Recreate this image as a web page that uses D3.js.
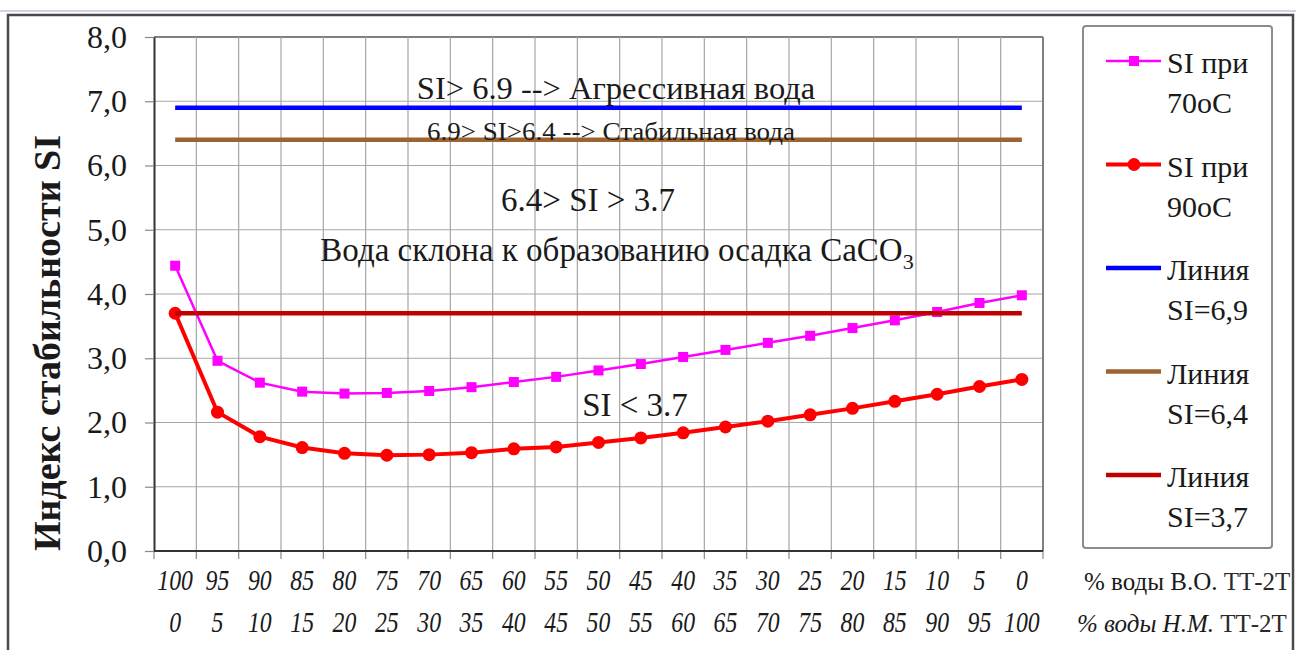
<!DOCTYPE html>
<html>
<head>
<meta charset="utf-8">
<script src="https://cdn.jsdelivr.net/npm/d3@7"></script>
<style>
  body { margin: 0; background: #fff; }
  text { font-family: "Liberation Serif", "Times New Roman", serif; fill: #1a1a1a; }
</style>
</head>
<body>
<script>

  // categories: % water V.O. (top row) and % water N.M. (bottom row)
  const topLabels = ["100","95","90","85","80","75","70","65","60","55","50","45","40","35","30","25","20","15","10","5","0"];
  const bottomLabels = ["0","5","10","15","20","25","30","35","40","45","50","55","60","65","70","75","80","85","90","95","100"];

  // SI values
  const si70 = [4.44, 2.96, 2.62, 2.48, 2.45, 2.46, 2.49, 2.55, 2.63, 2.71, 2.81, 2.91, 3.02, 3.13, 3.24, 3.35, 3.47, 3.59, 3.72, 3.86, 3.98];
  const si90 = [3.70, 2.16, 1.78, 1.61, 1.52, 1.49, 1.50, 1.53, 1.59, 1.62, 1.69, 1.76, 1.84, 1.93, 2.02, 2.12, 2.22, 2.33, 2.44, 2.56, 2.67];

  // constant lines
  const limits = [6.9, 6.4, 3.7];
  const yTicks = [0, 1, 2, 3, 4, 5, 6, 7, 8];

  const legendLabels = [["SI при", "70oC"], ["SI при", "90oC"], ["Линия", "SI=6,9"], ["Линия", "SI=6,4"], ["Линия", "SI=3,7"]];

  const colors = {si70: '#ff00ff', si90: '#ff0000', l69: '#0000ff', l64: '#9c6430', l37: '#c00000'};
  const limitColors = [colors.l69, colors.l64, colors.l37];

  const margin = { top: 37, right: 253, bottom: 99, left: 154 },
        width = 1296 - margin.left - margin.right,
        height = 650 - margin.top - margin.bottom;

  const svg = d3.select('body')
    .append('svg')
      .attr('width', 1296)
      .attr('height', 650);

  // outer frame
  svg.append('line')
    .attr('x1', 0).attr('x2', 1296).attr('y1', 11).attr('y2', 11)
    .attr('stroke', '#cdd4e2').attr('stroke-width', 2);
  svg.append('rect')
    .attr('x', 8).attr('y', 15).attr('width', 1285).attr('height', 660)
    .attr('fill', 'none').attr('stroke', '#4a4a4a').attr('stroke-width', 2.5);

  const g = svg.append('g')
    .attr('transform', `translate(${margin.left}, ${margin.top})`);

  const x = d3.scaleBand()
    .domain(d3.range(topLabels.length))
    .range([0, width]);
  const cx = i => x(i) + x.bandwidth() / 2;

  const y = d3.scaleLinear()
    .domain([0, 8])
    .range([height, 0]);

  // horizontal grid
  g.append('g')
    .selectAll('line')
    .data(yTicks.slice(1))
    .join('line')
      .attr('x1', 0).attr('x2', width)
      .attr('y1', d => y(d)).attr('y2', d => y(d))
      .attr('stroke', d => d === 8 ? '#808080' : '#a6a6a6')
      .attr('stroke-width', d => d === 8 ? 2 : 1.2);

  // vertical grid at category boundaries
  const bounds = d3.range(1, topLabels.length + 1).map(i => i < topLabels.length ? x(i) : width);
  g.append('g')
    .selectAll('line')
    .data(bounds)
    .join('line')
      .attr('x1', d => d).attr('x2', d => d)
      .attr('y1', 0).attr('y2', height)
      .attr('stroke', (d, i) => i === bounds.length - 1 ? '#808080' : '#a6a6a6')
      .attr('stroke-width', (d, i) => i === bounds.length - 1 ? 2 : 1.2);

  // x tick marks below the axis
  g.append('g')
    .selectAll('line')
    .data([0].concat(bounds))
    .join('line')
      .attr('x1', d => d).attr('x2', d => d)
      .attr('y1', height).attr('y2', height + 8)
      .attr('stroke', '#888').attr('stroke-width', 1.2);

  // y axis
  g.append('g')
    .attr('class', 'yaxis')
    .call(d3.axisLeft(y).tickValues(yTicks).tickSize(9).tickSizeOuter(0).tickPadding(18)
      .tickFormat(d => d.toFixed(1).replace('.', ',')))
    .call(a => a.select('.domain').attr('stroke', '#333').attr('stroke-width', 2))
    .call(a => a.selectAll('.tick line').attr('stroke', '#888').attr('stroke-width', 1.2))
    .selectAll('text')
      .style('font-size', '32px')
      .style('font-family', '"Liberation Serif", serif');

  // x axis line
  g.append('line')
    .attr('x1', 0).attr('x2', width)
    .attr('y1', height).attr('y2', height)
    .attr('stroke', '#333').attr('stroke-width', 2);

  // two rows of x labels
  const sx = 0.82;
  [[topLabels, 18], [bottomLabels, 60]].forEach(([labels, pad]) => {
    g.append('g')
      .attr('transform', `translate(0, ${height})`)
      .call(d3.axisBottom(x).tickSize(0).tickPadding(pad).tickFormat(i => labels[i]))
      .call(a => a.select('.domain').remove())
      .selectAll('text')
        .style('font-size', '29px')
        .style('font-style', 'italic')
        .attr('transform', `scale(${sx},1)`);
  });

  // y axis title
  svg.append('text')
    .attr('transform', 'translate(60, 343) rotate(-90)')
    .style('text-anchor', 'middle')
    .style('font-size', '38px')
    .style('font-weight', 'bold')
    .text('Индекс стабильности SI');

  // series lines
  const line = d3.line()
    .x((d, i) => cx(i))
    .y(d => y(d));

  g.append('path')
    .datum(si70)
    .attr('fill', 'none')
    .attr('stroke', colors.si70)
    .attr('stroke-width', 2.5)
    .attr('d', line);
  g.append('g')
    .selectAll('rect')
    .data(si70)
    .join('rect')
      .attr('x', (d, i) => cx(i) - 5)
      .attr('y', d => y(d) - 5)
      .attr('width', 10).attr('height', 10)
      .attr('fill', colors.si70);

  g.append('path')
    .datum(si90)
    .attr('fill', 'none')
    .attr('stroke', colors.si90)
    .attr('stroke-width', 4)
    .attr('d', line);
  g.append('g')
    .selectAll('circle')
    .data(si90)
    .join('circle')
      .attr('cx', (d, i) => cx(i))
      .attr('cy', d => y(d))
      .attr('r', 6.5)
      .attr('fill', colors.si90);

  // threshold lines across all categories
  g.append('g')
    .selectAll('line')
    .data(limits)
    .join('line')
      .attr('x1', cx(0)).attr('x2', cx(topLabels.length - 1))
      .attr('y1', d => y(d)).attr('y2', d => y(d))
      .attr('stroke', (d, i) => limitColors[i])
      .attr('stroke-width', 4.5);

  // zone annotations
  const notes = [
    {t: 'SI> 6.9 --> Агрессивная вода', x: 616, y: 99, s: 32.5},
    {t: '6.9> SI>6.4 --> Стабильная вода', x: 611, y: 140, s: 26, len: 368},
    {t: '6.4> SI > 3.7', x: 588, y: 211, s: 33},
    {t: 'SI < 3.7', x: 635, y: 416, s: 33}
  ];
  notes.forEach(n => {
    const el = svg.append('text')
      .attr('x', n.x).attr('y', n.y)
      .style('text-anchor', 'middle')
      .style('font-size', n.s + 'px')
      .text(n.t);
    if (n.len) el.attr('textLength', n.len).attr('lengthAdjust', 'spacingAndGlyphs');
  });
  const caco = svg.append('text')
    .attr('x', 617).attr('y', 261)
    .style('text-anchor', 'middle')
    .style('font-size', '33px');
  caco.append('tspan').text('Вода склона к образованию осадка CaCO');
  caco.append('tspan').attr('dy', 8).style('font-size', '22px').text('3');

  // legend
  const legend = svg.append('g');
  legend.append('rect')
    .attr('x', 1083).attr('y', 26).attr('width', 189).attr('height', 522)
    .attr('rx', 3)
    .attr('fill', '#fff').attr('stroke', '#8c8c8c').attr('stroke-width', 2);
  const legColors = [colors.si70, colors.si90, colors.l69, colors.l64, colors.l37];
  const legWidths = [2.5, 4, 4.5, 4.5, 4.5];
  legendLabels.forEach((lab, i) => {
    const ly = 61 + i * 103.5;
    legend.append('line')
      .attr('x1', 1106).attr('x2', 1161).attr('y1', ly).attr('y2', ly)
      .attr('stroke', legColors[i]).attr('stroke-width', legWidths[i]);
    if (i === 0) legend.append('rect').attr('x', 1129).attr('y', ly - 5).attr('width', 10).attr('height', 10).attr('fill', legColors[i]);
    if (i === 1) legend.append('circle').attr('cx', 1134).attr('cy', ly).attr('r', 6.5).attr('fill', legColors[i]);
    lab.forEach((t, k) => {
      legend.append('text')
        .attr('x', 1167).attr('y', ly + 12 + k * 40)
        .style('font-size', '30px')
        .text(t);
    });
  });

  // axis side captions
  const cap1 = svg.append('text').attr('x', 1084).attr('y', 590).style('font-size', '25px');
  cap1.append('tspan').text('% воды В.О. ');
  cap1.append('tspan').style('fill', '#2a2a2a').text('ТТ-2Т');
  const cap2 = svg.append('text').attr('x', 1077).attr('y', 632).style('font-size', '25px');
  cap2.append('tspan').style('font-style', 'italic').text('% воды Н.М. ');
  cap2.append('tspan').style('fill', '#2a2a2a').text('ТТ-2Т');

</script>
</body>
</html>
